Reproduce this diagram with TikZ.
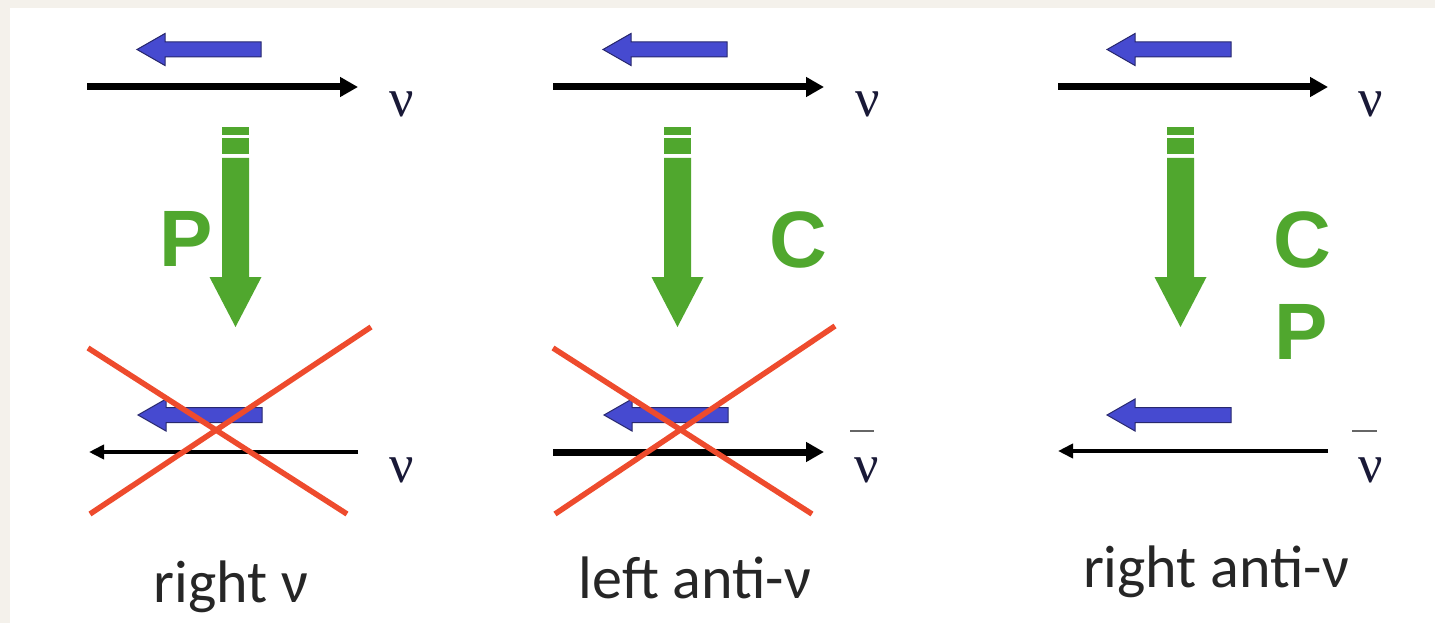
\documentclass[tikz,border=0pt]{standalone}
\usepackage{fontspec}
\setmainfont{Carlito}
\newfontfamily\nufont{Liberation Serif}
\newfontfamily\opfont{Liberation Sans}
\usetikzlibrary{arrows.meta}
\definecolor{cream}{RGB}{244,241,235}
\definecolor{bluefill}{RGB}{70,74,208}
\definecolor{blueedge}{RGB}{40,40,110}
\definecolor{grn}{RGB}{80,167,46}
\definecolor{redx}{RGB}{238,75,45}
\definecolor{txt}{RGB}{38,38,38}
\definecolor{nucol}{RGB}{25,25,55}
\tikzset{
  spinarr/.pic={
    \filldraw[fill=bluefill,draw=blueedge,line width=1pt,line join=miter]
      (0,0) -- (28,-16) -- (28,-7.5) -- (124,-7.5) -- (124,7.5) -- (28,7.5) -- (28,16) -- cycle;
  },
  transarr/.pic={
    \fill[grn] (-13.5,127) rectangle (13.5,135);
    \fill[grn] (-13.5,138.5) rectangle (13.5,154);
    \fill[grn] (-13.5,158) -- (13.5,158) -- (13.5,277) -- (26,277) -- (0,327)
      -- (-26,277) -- (-13.5,277) -- cycle;
  },
  momthick/.style={line width=7pt,-{Triangle[length=18pt,width=19pt]}},
  momthin/.style={line width=4.5pt,-{Triangle[length=15pt,width=14pt]}},
  crossline/.style={draw=redx,line width=5.5pt},
  nulab/.style={inner sep=0pt,text=nucol,font=\nufont\fontsize{54}{54}\selectfont},
  barline/.style={draw=black!60,line width=2pt},
  oplab/.style={inner sep=0pt,text=grn,font=\opfont\bfseries\fontsize{80}{80}\selectfont},
  caption/.style={inner sep=0pt,anchor=base,text=txt,font=\fontsize{60}{60}\selectfont},
}
\begin{document}
\begin{tikzpicture}[x=1pt,y=-1pt]
\useasboundingbox (0,0) rectangle (1435,623);
\fill[cream] (0,0) rectangle (1435,623);
\fill[white] (10,8) rectangle (1435,623);

% ---------- panel 1 ----------
\pic at (137,49.5) {spinarr};
\coordinate (a1s) at (87,87); \coordinate (a1e) at (358,87);
\draw[momthick] (a1s) -- (a1e);
\node[nulab] (n1t) at (402,104) {ν};
\pic at (235.5,0) {transarr};
\node[oplab] (p1) at (186,239) {P};
\pic at (138,415) {spinarr};
\coordinate (b1s) at (358,452); \coordinate (b1e) at (89,452);
\draw[momthin] (b1s) -- (b1e);
\node[nulab] (n1b) at (402,470) {ν};
\coordinate (x1a) at (88,348); \coordinate (x1b) at (347,514);
\coordinate (x1c) at (90,514); \coordinate (x1d) at (371,327);
\draw[crossline] (x1a) -- (x1b);
\draw[crossline] (x1c) -- (x1d);
\node[caption] (c1) at (231,602) {right ν};

% ---------- panel 2 ----------
\pic at (603,49.5) {spinarr};
\coordinate (a2s) at (553,87); \coordinate (a2e) at (824,87);
\draw[momthick] (a2s) -- (a2e);
\node[nulab] (n2t) at (868,104) {ν};
\pic at (677.5,0) {transarr};
\node[oplab] (c2op) at (798,240) {C};
\pic at (604,415) {spinarr};
\coordinate (b2s) at (553,452); \coordinate (b2e) at (824,452);
\draw[momthick] (b2s) -- (b2e);
\node[nulab] (n2b) at (867,470) {ν};
\coordinate (bar2a) at (850,431); \coordinate (bar2b) at (874,431);
\draw[barline] (bar2a) -- (bar2b);
\coordinate (x2a) at (553,348); \coordinate (x2b) at (812,514);
\coordinate (x2c) at (555,514); \coordinate (x2d) at (835,326);
\draw[crossline] (x2a) -- (x2b);
\draw[crossline] (x2c) -- (x2d);
\node[caption] (c2) at (695,598) {left anti-ν};

% ---------- panel 3 ----------
\pic at (1107,49.5) {spinarr};
\coordinate (a3s) at (1058,87); \coordinate (a3e) at (1328,87);
\draw[momthick] (a3s) -- (a3e);
\node[nulab] (n3t) at (1371,104) {ν};
\pic at (1180.5,0) {transarr};
\node[oplab] (c3op) at (1302,240) {C};
\node[oplab] (p3op) at (1301,332) {P};
\pic at (1107,415) {spinarr};
\coordinate (b3s) at (1328,451); \coordinate (b3e) at (1058,451);
\draw[momthin] (b3s) -- (b3e);
\node[nulab] (n3b) at (1371,470) {ν};
\coordinate (bar3a) at (1352,431); \coordinate (bar3b) at (1377,431);
\draw[barline] (bar3a) -- (bar3b);
\node[caption] (c3) at (1216,587) {right anti-ν};
\end{tikzpicture}
\end{document}
